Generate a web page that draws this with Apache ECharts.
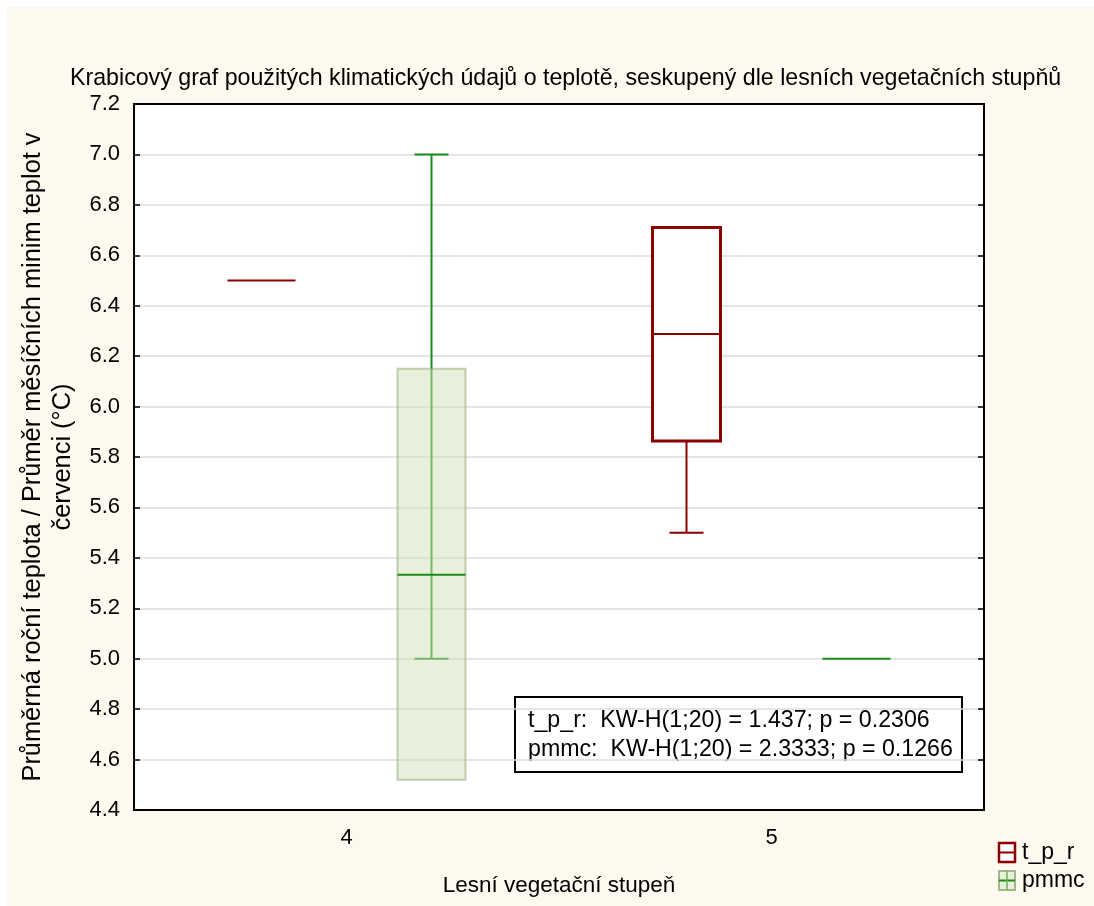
<!DOCTYPE html>
<html><head><meta charset="utf-8">
<script src="https://cdn.jsdelivr.net/npm/echarts@6/dist/echarts.min.js"></script>
<style>html,body{margin:0;padding:0;background:#fff}#c{width:1094px;height:906px}</style>
</head><body><div id="c"></div>
<script>
// ---- data ----
const categories = ['4', '5'];
// [low whisker, box bottom, median, box top, high whisker]
const tprValues  = [[6.5, 6.5, 6.5, 6.5, 6.5], [5.5, 5.863, 6.288, 6.71, 6.71]];
const pmmcValues = [[5.0, 4.52, 5.333, 6.15, 7.0], [5.0, 5.0, 5.0, 5.0, 5.0]];
const seriesNames = ['t_p_r', 'pmmc'];
const statLines = ['t_p_r:  KW-H(1;20) = 1.437; p = 0.2306', 'pmmc:  KW-H(1;20) = 2.3333; p = 0.1266'];
const titleText = 'Krabicový graf použitých klimatických údajů o teplotě, seskupený dle lesních vegetačních stupňů';
const yName = 'Průměrná roční teplota / Průměr měsíčních minim teplot v\nčervenci (°C)';
const xName = 'Lesní vegetační stupeň';

const FONT = 'Liberation Sans, Arial, sans-serif';
const RED = '#8b0000';
const GREEN = '#1a8c1a';

function makeRender(style, offset) {
  return function (params, api) {
    const ci = api.value(0);
    const v = [api.value(1), api.value(2), api.value(3), api.value(4), api.value(5)];
    const band = api.size([1, 0])[0];
    const cx = api.coord([ci, v[2]])[0] + offset * band;
    const hw = band * 0.08, cw = band * 0.04;
    const y = v.map(val => api.coord([ci, val])[1]);
    const children = [];
    const allSame = v.every(x => x === v[0]);
    if (allSame) {
      children.push({type: 'line', shape: {x1: cx - hw, y1: y[2], x2: cx + hw, y2: y[2]},
        style: {stroke: style.median, lineWidth: 2}});
      return {type: 'group', children};
    }
    if (style.through) {
      children.push({type: 'line', shape: {x1: cx, y1: y[0], x2: cx, y2: y[4]}, style: {stroke: style.line, lineWidth: 2}});
    } else {
      if (v[0] !== v[1]) children.push({type: 'line', shape: {x1: cx, y1: y[0], x2: cx, y2: y[1]}, style: {stroke: style.line, lineWidth: 2}});
      if (v[4] !== v[3]) children.push({type: 'line', shape: {x1: cx, y1: y[3], x2: cx, y2: y[4]}, style: {stroke: style.line, lineWidth: 2}});
    }
    if (v[0] !== v[1]) children.push({type: 'line', shape: {x1: cx - cw, y1: y[0], x2: cx + cw, y2: y[0]}, style: {stroke: style.line, lineWidth: 2}});
    if (v[4] !== v[3]) children.push({type: 'line', shape: {x1: cx - cw, y1: y[4], x2: cx + cw, y2: y[4]}, style: {stroke: style.line, lineWidth: 2}});
    children.push({type: 'rect', shape: {x: cx - hw, y: y[3], width: 2 * hw, height: y[1] - y[3]},
      style: {fill: style.fill, stroke: style.border, lineWidth: style.borderWidth}});
    children.push({type: 'line', shape: {x1: cx - hw, y1: y[2], x2: cx + hw, y2: y[2]}, style: {stroke: style.median, lineWidth: 2}});
    return {type: 'group', children};
  };
}

const tprStyle = {line: RED, median: RED, fill: '#ffffff', border: RED, borderWidth: 3, through: false};
const pmmcStyle = {line: GREEN, median: GREEN, fill: 'rgba(210,226,186,0.5)', border: 'rgba(150,170,120,0.55)', borderWidth: 2, through: true};

const chart = echarts.init(document.getElementById('c'));
chart.setOption({
  backgroundColor: '#ffffff',
  animation: false,
  title: {text: titleText, left: 65, top: 62,
    textStyle: {fontFamily: FONT, fontSize: 23.2, fontWeight: 'normal', color: '#000'}},
  grid: {left: 134, top: 104, right: 110, bottom: 96, outerBoundsMode: 'none', containLabel: false,
    show: true, backgroundColor: '#ffffff', borderColor: '#000', borderWidth: 0},
  xAxis: [{
    type: 'category', data: categories, boundaryGap: true, position: 'bottom',
    axisLine: {lineStyle: {color: '#000', width: 2}},
    axisTick: {inside: true, alignWithLabel: true, length: 6, lineStyle: {color: '#000', width: 1.5}},
    axisLabel: {fontFamily: FONT, fontSize: 22, color: '#000', margin: 17},
    name: xName, nameLocation: 'middle', nameGap: 64,
    nameTextStyle: {fontFamily: FONT, fontSize: 22.5, color: '#000'},
    splitLine: {show: false}
  }, {
    type: 'category', data: categories, boundaryGap: true, position: 'top',
    axisLine: {lineStyle: {color: '#000', width: 2}},
    axisTick: {inside: true, alignWithLabel: true, length: 6, lineStyle: {color: '#000', width: 1.5}},
    axisLabel: {show: false}, splitLine: {show: false}
  }],
  yAxis: [{
    type: 'value', min: 4.4, max: 7.2, interval: 0.2, position: 'left',
    axisLine: {show: true, lineStyle: {color: '#000', width: 2}},
    axisTick: {show: true, inside: true, length: 6, lineStyle: {color: '#000', width: 1.5}},
    axisLabel: {fontFamily: FONT, fontSize: 22, color: '#000', margin: 14, formatter: v => v.toFixed(1)},
    splitLine: {show: true, lineStyle: {color: '#dcdcdc', width: 1.5}},
    name: yName, nameLocation: 'middle', nameRotate: 90, nameGap: 56,
    nameTextStyle: {fontFamily: FONT, fontSize: 25.4, color: '#000', lineHeight: 30}
  }, {
    type: 'value', min: 4.4, max: 7.2, interval: 0.2, position: 'right',
    axisLine: {show: true, lineStyle: {color: '#000', width: 2}},
    axisTick: {show: true, inside: true, length: 6, lineStyle: {color: '#000', width: 1.5}},
    axisLabel: {show: false}, splitLine: {show: false}
  }],
  series: [{
    name: seriesNames[0], type: 'custom', renderItem: makeRender(tprStyle, -0.2),
    encode: {x: 0, y: [1, 2, 3, 4, 5]},
    data: tprValues.map((v, i) => [i].concat(v)), z: 3
  }, {
    name: seriesNames[1], type: 'custom', renderItem: makeRender(pmmcStyle, 0.2),
    encode: {x: 0, y: [1, 2, 3, 4, 5]},
    data: pmmcValues.map((v, i) => [i].concat(v)), z: 3
  }],
  graphic: [
    {type: 'rect', z: -100, silent: true, shape: {x: 7, y: 7, width: 1087, height: 899}, style: {fill: '#fdf9ee'}},
    {type: 'group', z: 100, children: [
      {type: 'rect', shape: {x: 515, y: 697, width: 447, height: 75}, style: {fill: '#fff', stroke: '#000', lineWidth: 2}},
      {type: 'text', x: 528, y: 721, style: {text: statLines[0], font: '23.2px ' + FONT, fill: '#000', verticalAlign: 'middle'}},
      {type: 'text', x: 528, y: 750, style: {text: statLines[1], font: '23.2px ' + FONT, fill: '#000', verticalAlign: 'middle'}}
    ]},
    {type: 'group', z: 100, children: [
      {type: 'rect', shape: {x: 999, y: 843, width: 16, height: 19}, style: {fill: '#fff', stroke: RED, lineWidth: 2.5}},
      {type: 'line', shape: {x1: 999, y1: 852.5, x2: 1015, y2: 852.5}, style: {stroke: RED, lineWidth: 2}},
      {type: 'text', x: 1022, y: 853, style: {text: seriesNames[0], font: '23px ' + FONT, fill: '#000', verticalAlign: 'middle'}},
      {type: 'rect', shape: {x: 999, y: 871, width: 16, height: 19}, style: {fill: '#e8f0dc', stroke: '#9fb98a', lineWidth: 2}},
      {type: 'line', shape: {x1: 999, y1: 880.5, x2: 1015, y2: 880.5}, style: {stroke: GREEN, lineWidth: 2}},
      {type: 'line', shape: {x1: 1007, y1: 871, x2: 1007, y2: 890}, style: {stroke: '#6fb060', lineWidth: 1.5}},
      {type: 'text', x: 1022, y: 881, style: {text: seriesNames[1], font: '23px ' + FONT, fill: '#000', verticalAlign: 'middle'}}
    ]}
  ]
});
</script></body></html>
